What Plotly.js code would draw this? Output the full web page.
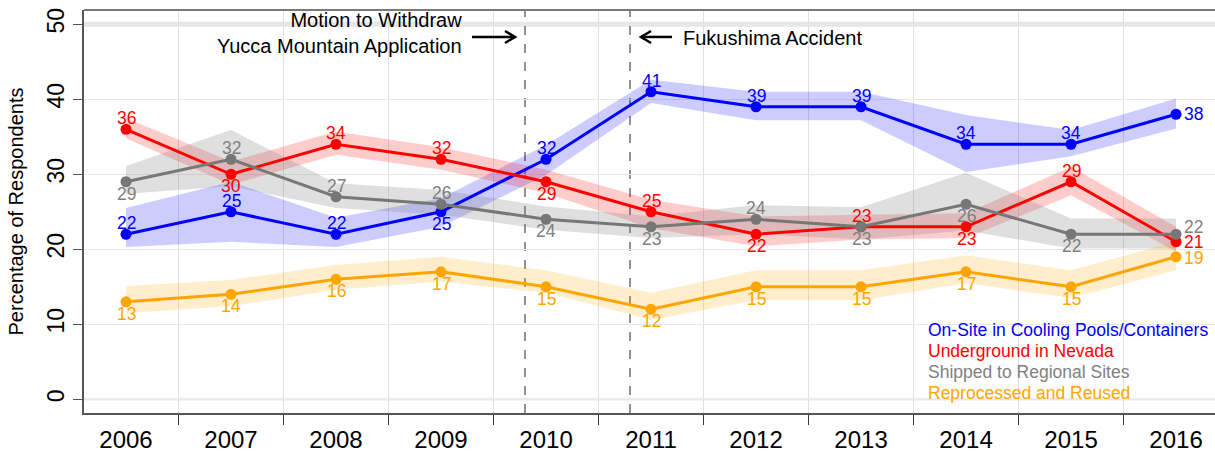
<!DOCTYPE html>
<html>
<head>
<meta charset="utf-8">
<script src="https://cdn.plot.ly/plotly-3.0.1.min.js"></script>
<style>html,body{margin:0;padding:0;background:#fff;}#chart{width:1215px;height:453px;}</style>
</head>
<body>
<div id="chart"></div>
<script>
// ---- data ----
const years = ['2006','2007','2008','2009','2010','2011','2012','2013','2014','2015','2016'];

const onSite      = [22, 25, 22, 25, 32, 41, 39, 39, 34, 34, 38];
const onSiteHi    = [25.5, 29.0, 24.2, 26.8, 33.9, 42.6, 41.0, 41.0, 37.9, 35.9, 40.1];
const onSiteLo    = [20.3, 21.0, 20.3, 23.0, 29.9, 39.5, 37.2, 37.2, 30.3, 32.4, 36.1];

const nevada      = [36, 30, 34, 32, 29, 25, 22, 23, 23, 29, 21];
const nevadaHi    = [37.5, 31.7, 35.7, 33.6, 30.6, 26.6, 24.4, 24.6, 24.8, 31.0, 23.0];
const nevadaLo    = [34.8, 28.6, 32.6, 30.6, 27.5, 22.8, 20.4, 21.3, 21.5, 27.2, 19.7];

const regional    = [29, 32, 27, 26, 24, 23, 24, 23, 26, 22, 22];
const regionalHi  = [31.1, 35.9, 28.8, 27.9, 25.7, 24.4, 25.9, 25.6, 30.2, 24.1, 24.1];
const regionalLo  = [27.4, 28.4, 25.5, 24.6, 22.6, 21.5, 22.0, 21.3, 22.5, 20.1, 20.1];

const reprocessed   = [13, 14, 16, 17, 15, 12, 15, 15, 17, 15, 19];
const reprocessedHi = [15.1, 15.9, 17.9, 19.0, 17.2, 14.2, 17.2, 17.2, 19.2, 17.2, 21.0];
const reprocessedLo = [11.5, 12.4, 14.6, 15.7, 14.2, 10.6, 13.2, 13.2, 15.5, 13.5, 17.2];

const seriesNames = ['On-Site in Cooling Pools/Containers','Underground in Nevada','Shipped to Regional Sites','Reprocessed and Reused'];
const yTicks = [0, 10, 20, 30, 40, 50];

// ---- style (label placement: a = above, b = below, r = right, ru = right & raised, rd = right & lowered) ----
const series = [
  {y: onSite, hi: onSiteHi, lo: onSiteLo, color: '#0000FF', text: '#0000FF', band: 'rgba(0,0,255,0.2)',
   pos: ['a','a','a','b','a','a','a','a','a','a','r']},
  {y: nevada, hi: nevadaHi, lo: nevadaLo, color: '#FF0000', text: '#FF0000', band: 'rgba(255,0,0,0.2)',
   pos: ['a','b','a','a','b','a','b','a','b','a','r']},
  {y: regional, hi: regionalHi, lo: regionalLo, color: '#777777', text: '#808080', band: 'rgba(128,128,128,0.25)',
   pos: ['b','a','a','a','b','b','a','b','b','b','ru']},
  {y: reprocessed, hi: reprocessedHi, lo: reprocessedLo, color: '#FFA500', text: '#FFA500', band: 'rgba(255,165,0,0.2)',
   pos: ['b','b','b','b','b','b','b','b','b','b','rd']}
];
const legendColors = ['#0000FF','#FF0000','#808080','#FFA500'];

const FONT = 'Liberation Sans, Arial, sans-serif';
const traces = [];
series.forEach(s => {
  traces.push({x: years, y: s.lo, type: 'scatter', mode: 'lines', line: {width: 0, color: s.band},
               hoverinfo: 'skip', showlegend: false});
  traces.push({x: years, y: s.hi, type: 'scatter', mode: 'lines', line: {width: 0, color: s.band},
               fill: 'tonexty', fillcolor: s.band, hoverinfo: 'skip', showlegend: false});
});
series.forEach((s, i) => {
  traces.push({x: years, y: s.y, type: 'scatter', mode: 'lines+markers', name: seriesNames[i],
               line: {color: s.color, width: 3}, marker: {color: s.color, size: 11}, showlegend: false});
});

const annotations = [];
series.forEach(s => {
  s.y.forEach((v, j) => {
    const p = s.pos[j];
    // category index j on the category axis
    const a = {x: j, y: v, xref: 'x', yref: 'y', text: String(v), showarrow: false, borderpad: 0,
               font: {family: FONT, size: 17.5, color: s.text}};
    if (p === 'a') { a.yshift = 11; }
    else if (p === 'b') { a.yshift = -12; }
    else {
      a.xanchor = 'left'; a.xshift = 7;
      if (p === 'ru') a.yshift = 7;
      if (p === 'rd') a.yshift = -1;
    }
    annotations.push(a);
  });
});

// event annotations
const pxToIdx = px => (px - 126) / 105;
const pxToVal = py => (399.3 - py) / 7.5;
annotations.push({x: pxToIdx(464), y: pxToVal(33), xref: 'x', yref: 'y', xanchor: 'right', yanchor: 'middle',
  align: 'right', showarrow: false, text: 'Motion to Withdraw<br>Yucca Mountain Application',
  font: {family: FONT, size: 20, color: '#000'}});
annotations.push({x: pxToIdx(681), y: pxToVal(38), xref: 'x', yref: 'y', xanchor: 'left', yanchor: 'middle',
  showarrow: false, text: 'Fukushima Accident', font: {family: FONT, size: 20, color: '#000'}});

// legend text
const legendY = [330, 351, 372, 393];
seriesNames.forEach((n, i) => {
  annotations.push({x: pxToIdx(927), y: pxToVal(legendY[i]), xref: 'x', yref: 'y', xanchor: 'left', yanchor: 'middle',
    showarrow: false, borderpad: 0, text: n, font: {family: FONT, size: 17.5, color: legendColors[i]}});
});

// shapes
const shapes = [
  {type: 'line', xref: 'paper', yref: 'y', x0: 0, x1: 1, y0: 50, y1: 50, line: {color: '#e6e6e6', width: 5}, layer: 'below'},
  {type: 'line', xref: 'paper', yref: 'y', x0: 0, x1: 1, y0: 0, y1: 0, line: {color: '#efefef', width: 3}, layer: 'below'},
  {type: 'line', xref: 'paper', yref: 'paper', x0: 0, x1: 1, y0: 1, y1: 1, line: {color: '#7a7a7a', width: 2}},
  {type: 'line', xref: 'x', yref: 'paper', x0: 3.8, x1: 3.8, y0: 0, y1: 1, line: {color: '#777', width: 1.6, dash: 'dash'}, layer: 'below'},
  {type: 'line', xref: 'x', yref: 'paper', x0: 4.8, x1: 4.8, y0: 0, y1: 1, line: {color: '#777', width: 1.6, dash: 'dash'}, layer: 'below'}
];
// arrows (shaft + open head)
function arrow(xTail, xHead, yPx) {
  const dir = xHead > xTail ? 1 : -1;
  shapes.push({type: 'line', xref: 'x', yref: 'y', x0: pxToIdx(xTail), x1: pxToIdx(xHead), y0: pxToVal(yPx), y1: pxToVal(yPx),
    line: {color: '#000', width: 2.5}});
  shapes.push({type: 'path', xref: 'x', yref: 'y',
    path: 'M' + pxToIdx(xHead - dir * 10) + ',' + pxToVal(yPx - 6) + ' L' + pxToIdx(xHead) + ',' + pxToVal(yPx) +
          ' L' + pxToIdx(xHead - dir * 10) + ',' + pxToVal(yPx + 6),
    line: {color: '#000', width: 2.5}});
}
arrow(472, 515, 37);
arrow(672, 641, 37);

const layout = {
  width: 1215, height: 453,
  margin: {l: 84, r: 0, t: 10, b: 40},
  paper_bgcolor: '#fff', plot_bgcolor: '#fff',
  showlegend: false,
  font: {family: FONT, color: '#000'},
  xaxis: {type: 'category', range: [-0.4, 10.371], tickson: 'boundaries', ticks: 'outside', ticklen: 10,
          tickcolor: '#333', tickwidth: 1.5, showgrid: true, gridcolor: '#e0e0e0', gridwidth: 1,
          showline: true, linecolor: '#555', linewidth: 2, zeroline: false, ticklabelstandoff: 4,
          tickfont: {family: FONT, size: 24, color: '#000'}},
  yaxis: {range: [-1.83, 51.9], tickvals: yTicks, ticktext: yTicks.map(String), tickangle: -90,
          ticks: 'outside', ticklen: 9, tickcolor: '#555', tickwidth: 1.5,
          showgrid: true, gridcolor: '#e8e8e8', gridwidth: 1, zeroline: false,
          showline: true, linecolor: '#555', linewidth: 2,
          tickfont: {family: FONT, size: 23, color: '#000'},
          title: {text: 'Percentage of Respondents', font: {family: FONT, size: 20, color: '#000'}, standoff: 14}},
  annotations: annotations,
  shapes: shapes
};

Plotly.newPlot('chart', traces, layout, {displayModeBar: false, staticPlot: true});
</script>
</body>
</html>
